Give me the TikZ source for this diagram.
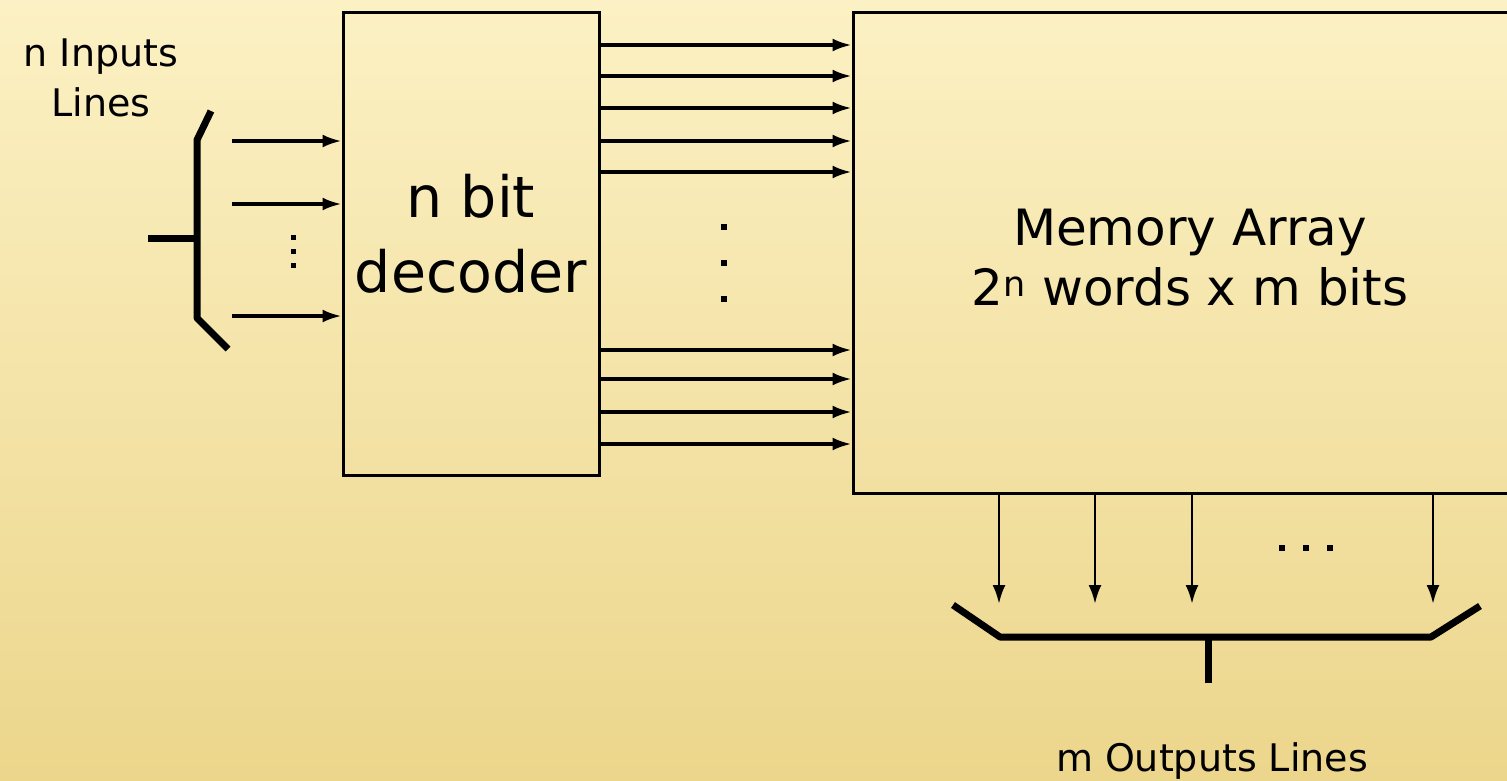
\documentclass[tikz,border=0pt]{standalone}
\usepackage{fontspec}
\setmainfont{DejaVu Sans}
\usetikzlibrary{arrows.meta}
\begin{document}
\begin{tikzpicture}[x=1pt,y=-1pt,
  box/.style={draw=black,line width=3pt,inner sep=0pt},
  arr/.style={draw=black,line width=3.2pt,-{Latex[length=19pt,width=13pt]}},
  bus/.style={draw=black,line width=7pt,line join=round},
  dotpt/.style={fill=black,rectangle,inner sep=0pt,minimum size=6pt},
  lbl/.style={inner sep=0pt,align=center,text=black}]
\useasboundingbox (0,0) rectangle (1507,780);
\shade[top color={rgb,255:red,252;green,241;blue,196},bottom color={rgb,255:red,236;green,214;blue,140}] (0,0) rectangle (1507,780);
\clip (0,0) rectangle (1507,780);

% boxes
\node[box,minimum width=256pt,minimum height=463pt] (dec) at (471,243.5) {};
\node[box,minimum width=660pt,minimum height=481pt] (mem) at (1183,252.5) {};
\node[lbl,font=\fontsize{57}{75}\selectfont] (dectxt) at (471,234) {n bit\\decoder};
\node[lbl,font=\fontsize{50}{60}\selectfont] (memtxt) at (1190,258) {Memory Array\\2\textsuperscript{n} words x m bits};

% decoder outputs
\foreach \yy in {45,76,108,141,172,350,379,412,444}
  \draw[arr] (dec.east |- {0,\yy}) -- (mem.west |- {0,\yy});
\foreach \yy/\nm in {227/da,263/db,299/dc}
  \node[dotpt] (\nm) at (724,\yy) {};

% inputs
\foreach \yy/\nm in {141/ia,204/ib,316/ic}{
  \coordinate (\nm) at (232,\yy);
  \draw[arr] (\nm) -- (dec.west |- \nm);
}
\foreach \yy/\nm in {237/ea,251/eb,265/ec}
  \node[dotpt,minimum size=5pt] (\nm) at (293,\yy) {};

% input bus bracket
\coordinate (bt) at (211,111);
\coordinate (bc1) at (197,140);
\coordinate (bc2) at (197,318);
\coordinate (bb) at (228,349);
\coordinate (bs) at (148,238);
\coordinate (bm) at (197,238);
\draw[bus] (bt) -- (bc1) -- (bc2) -- (bb);
\draw[bus] (bs) -- (bm);
\node[lbl,font=\fontsize{38}{50}\selectfont] (inlbl) at (101,78) {n Inputs\\Lines};

% memory outputs
\foreach \xx/\nm in {999/oa,1095/ob,1192/oc,1433/od}{
  \coordinate (\nm) at (\xx,604);
  \draw[arr,line width=2.8pt] (mem.south -| \nm) -- (\nm);
}
\foreach \xx/\nm in {1282/fa,1306/fb,1330/fc}
  \node[dotpt,minimum size=5.5pt] (\nm) at (\xx,548) {};

% output bus bracket
\coordinate (ol) at (953,605);
\coordinate (oc1) at (1000,637);
\coordinate (oc2) at (1431,637);
\coordinate (orr) at (1480,606);
\coordinate (om) at (1208,637);
\coordinate (ob2) at (1208,683);
\draw[bus] (ol) -- (oc1) -- (oc2) -- (orr);
\draw[bus] (om) -- (ob2);
\node[lbl,anchor=base,font=\fontsize{38}{46}\selectfont] (outlbl) at (1212,771) {m Outputs Lines};
\end{tikzpicture}
\end{document}
